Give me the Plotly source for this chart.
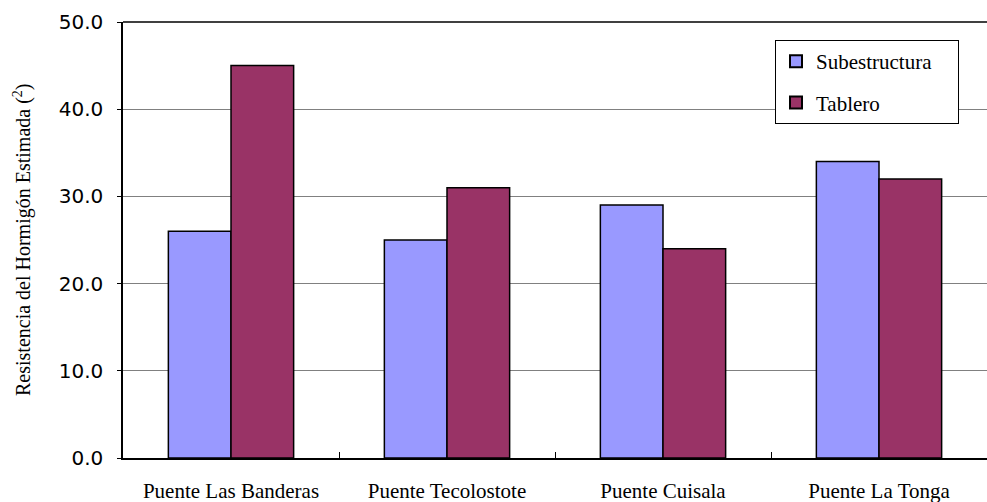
import plotly.graph_objects as go

categories = ["Puente Las Banderas", "Puente Tecolostote", "Puente Cuisala", "Puente La Tonga"]
series_names = ["Subestructura", "Tablero"]
subestructura = [26, 25, 29, 34]
tablero = [45, 31, 24, 32]
y_ticks = [0, 10, 20, 30, 40, 50]
y_ticklabels = ["0.0", "10.0", "20.0", "30.0", "40.0", "50.0"]

serif = "Liberation Serif, Times New Roman, serif"
sans = "DejaVu Sans, Verdana, sans-serif"
pad = "\u00a0" * 4  # widen legend box to match reference

fig = go.Figure()
fig.add_trace(go.Bar(name=series_names[0] + pad, x=categories, y=subestructura,
                     marker=dict(color="#9999FF", line=dict(color="black", width=1.5)),
                     legendgroup="a"))
fig.add_trace(go.Bar(name=series_names[1], x=categories, y=tablero,
                     marker=dict(color="#993366", line=dict(color="black", width=1.5)),
                     legendgroup="b"))

fig.update_layout(
    width=987, height=502,
    margin=dict(l=123, r=0, t=22, b=44),
    paper_bgcolor="white", plot_bgcolor="white",
    barmode="group", bargap=0.42, bargroupgap=0,
    showlegend=True,
    legend=dict(x=(775-123)/864, y=(458-40)/436, xanchor="left", yanchor="top",
                bordercolor="black", borderwidth=1, bgcolor="white",
                font=dict(family=serif, size=21, color="black"),
                traceorder="grouped", tracegroupgap=11,
                itemsizing="constant"),
    xaxis=dict(showline=True, linecolor="black", linewidth=1.5,
               ticks="inside", ticklen=6, tickcolor="black", tickson="boundaries",
               tickfont=dict(family=serif, size=21, color="black"),
               ticklabelstandoff=13, showgrid=False),
    yaxis=dict(range=[0, 50], tickvals=y_ticks, ticktext=y_ticklabels,
               showline=True, linecolor="black", linewidth=1.5,
               ticks="outside", ticklen=4, tickcolor="black",
               tickfont=dict(family=sans, size=20, color="black"),
               ticklabelstandoff=10,
               showgrid=True, gridcolor="#808080", gridwidth=1, zeroline=False),
    shapes=[dict(type="line", xref="paper", yref="paper", x0=0, x1=1, y0=1, y1=1,
                 line=dict(color="black", width=1.5))],
    annotations=[dict(text="Resistencia del Hormigón Estimada (<sup>2</sup>)",
                      xref="paper", yref="paper", x=(22-123)/864, y=0.5,
                      xanchor="center", yanchor="middle", textangle=-90,
                      showarrow=False, font=dict(family=serif, size=20, color="black"))],
)

fig.write_html("out.html")
